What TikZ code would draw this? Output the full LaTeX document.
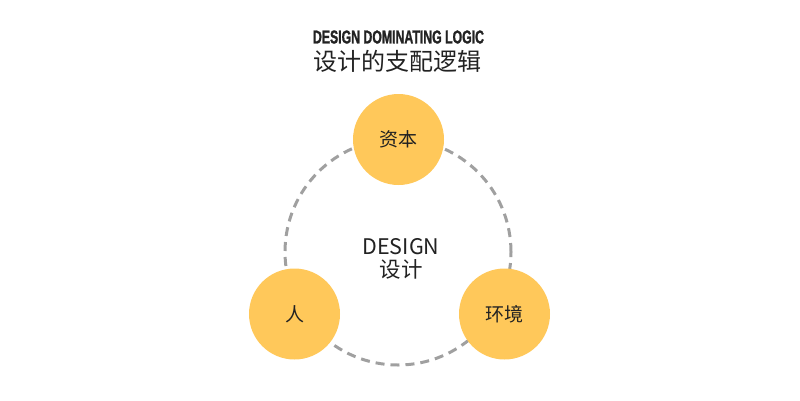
\documentclass[tikz,border=0pt]{standalone}
\usepackage{fontspec}
\setmainfont{Noto Sans CJK SC}
\newfontfamily\titlefont[BoldFeatures={FakeBold=1.5}]{Liberation Sans}
\definecolor{ballfill}{RGB}{255,200,90}
\definecolor{ringgray}{RGB}{160,160,160}
\definecolor{inkdark}{RGB}{34,34,34}
\begin{document}
\begin{tikzpicture}
[x=1pt,y=-1pt,
  balldecorate/.style={shape=circle,fill=ballfill,minimum size=91pt,inner sep=0pt,
    font=\fontsize{19}{22}\selectfont,text=inkdark},%
  ringdecorate/.style={shape=circle,draw=ringgray,line width=3pt,
    dash pattern=on 9pt off 6pt,minimum size=226pt,inner sep=0pt}]
\useasboundingbox (0,0) rectangle (800,400);
% title
\node (head) at (398.5,37) [text=inkdark]
  {\resizebox{171pt}{13pt}{\titlefont\bfseries DESIGN DOMINATING LOGIC}};
\node (headcn) at (397,61) [text=inkdark,font=\fontsize{24}{28}\selectfont] {设计的支配逻辑};
% ring and centre
\node (ring) at (398,252) [ringdecorate] {};
\node (design) at (401,259) [text=inkdark,align=center,
  font=\fontsize{21.5}{23}\selectfont] {DESIGN\\设计};
% nodes or vertices
\node (capital) at (398.5,139.5) [balldecorate] {资本};
\node (people) at (294.5,314) [balldecorate] {人};
\node (env) at (504.5,314) [balldecorate] {环境};
\end{tikzpicture}
\end{document}
